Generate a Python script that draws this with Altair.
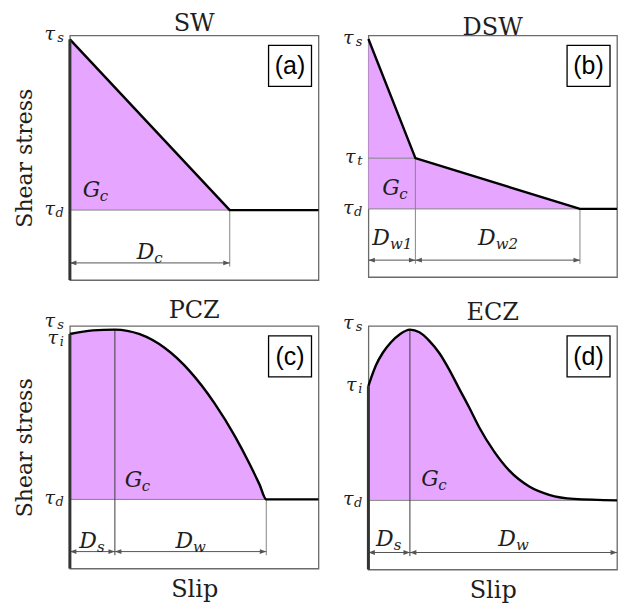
import altair as alt
import pandas as pd

SERIF = "DejaVu Serif"
SANS = "Liberation Sans"
FILL = "#E6A6FF"
INK = "#1e1e1e"
GUIDE = "#858585"
DARK_GUIDE = "#3c3c3c"
ARROW = "#555555"
PANEL_W = 249
ARROW_Y = 0.07
GUIDE_FLOOR = 0.055

# ---------- traction-slip laws (normalised slip, normalised stress) ----------
sw_slip = [0.0, 0.643, 1.0]
sw_stress = [0.984, 0.286, 0.286]

dsw_slip = [0.0, 0.189, 0.851, 1.0]
dsw_stress = [0.985, 0.492, 0.282, 0.282]

pcz_slip = [0.0, 0.092, 0.181, 0.281, 0.382, 0.482, 0.582, 0.663, 0.723, 0.763, 0.790, 1.0]
pcz_stress = [0.967, 0.982, 0.985, 0.966, 0.909, 0.814, 0.681, 0.547, 0.431, 0.346, 0.285, 0.285]

ecz_slip = [0.0, 0.012, 0.030, 0.058, 0.090, 0.128, 0.167, 0.205, 0.245, 0.285, 0.325, 0.365,
            0.406, 0.446, 0.506, 0.566, 0.647, 0.727, 0.827, 1.0]
ecz_stress = [0.753, 0.790, 0.838, 0.890, 0.932, 0.967, 0.985, 0.974, 0.939, 0.889, 0.821, 0.743,
              0.664, 0.583, 0.484, 0.407, 0.341, 0.307, 0.290, 0.284]

# stress levels marked on each law: (subscript, level, vertical nudge in px)
sw_taus = [("s", 0.984, -4), ("d", 0.286, 0)]
dsw_taus = [("s", 0.985, 0), ("t", 0.492, 0), ("d", 0.282, 0)]
pcz_taus = [("s", 0.985, -8), ("i", 0.967, 5), ("d", 0.285, 0)]
ecz_taus = [("s", 0.985, -6), ("i", 0.753, 0), ("d", 0.284, 0)]

# slip distances: (start, end, subscript)
sw_spans = [(0.0, 0.643, "c")]
dsw_spans = [(0.0, 0.189, "w1"), (0.189, 0.851, "w2")]
pcz_spans = [(0.0, 0.181, "s"), (0.181, 0.790, "w")]
ecz_spans = [(0.0, 0.167, "s"), (0.167, 1.0, "w")]

# fracture-energy label anchor (slip, stress) and height of the distance labels
gc_anchor = {"a": (0.052, 0.367), "b": (0.056, 0.368), "c": (0.221, 0.366), "d": (0.213, 0.370)}
span_label_y = {"a": 0.115, "b": 0.16, "c": 0.115, "d": 0.125}

SUB_W = {"c": 8, "s": 8, "w": 12, "w1": 21, "w2": 21, "t": 6, "d": 8, "i": 5}

XS = alt.Scale(domain=[0, 1], nice=False, zero=False)
YS = alt.Scale(domain=[0, 1], nice=False, zero=False)


def build_panel(key, title, slip, stress, taus, spans, end, tau_d, height, interp="linear",
                thick_top=None, hguides=(), vguides=(), y_title=False, x_title=False):
    ya = (alt.Axis(title="Shear stress", labels=False, ticks=False, domain=False, grid=False,
                   titleFont=SERIF, titleFontSize=22, titleFontWeight="normal",
                   titleColor=INK, titlePadding=33, minExtent=0, maxExtent=0)
          if y_title else None)
    xa = (alt.Axis(title="Slip", labels=False, ticks=False, domain=False, grid=False,
                   titleFont=SERIF, titleFontSize=24, titleFontWeight="normal",
                   titleColor=INK, titlePadding=9, minExtent=0, maxExtent=0)
          if x_title else None)

    def X(f):
        return alt.X(f"{f}:Q", scale=XS, axis=xa)

    def Y(f):
        return alt.Y(f"{f}:Q", scale=YS, axis=ya)

    curve = pd.DataFrame({"x": slip, "y": stress})
    filled = curve[curve["x"] <= end + 1e-9].assign(base=tau_d)

    layers = []
    layers.append(alt.Chart(filled).mark_area(color=FILL, opacity=1, interpolate=interp)
                  .encode(x=X("x"), y=Y("y"), y2="base:Q"))

    hg = pd.DataFrame(list(hguides), columns=["x0", "x1", "y"])
    layers.append(alt.Chart(hg).mark_rule(color=GUIDE, strokeWidth=1)
                  .encode(x=X("x0"), x2="x1:Q", y=Y("y")))

    vg = pd.DataFrame(list(vguides), columns=["x", "y0", "y1", "tone"])
    layers.append(alt.Chart(vg).mark_rule(strokeWidth=1)
                  .encode(x=X("x"), y=Y("y0"), y2="y1:Q",
                          color=alt.Color("tone:N", scale=None)))

    sp = pd.DataFrame(spans, columns=["x0", "x1", "sub"]).assign(y=ARROW_Y)
    layers.append(alt.Chart(sp).mark_rule(color=ARROW, strokeWidth=1)
                  .encode(x=X("x0"), x2="x1:Q", y=Y("y")))
    layers.append(alt.Chart(sp).mark_point(shape="M0,0L2,-0.75L2,0.75Z", filled=True, size=42,
                                           color=ARROW, opacity=1)
                  .encode(x=X("x0"), y=Y("y")))
    layers.append(alt.Chart(sp).mark_point(shape="M0,0L-2,-0.75L-2,0.75Z", filled=True, size=42,
                                           color=ARROW, opacity=1)
                  .encode(x=X("x1"), y=Y("y")))

    layers.append(alt.Chart(curve).mark_line(color="black", strokeWidth=2.4,
                                             interpolate=interp, strokeJoin="round")
                  .encode(x=X("x"), y=Y("y")))

    if thick_top is not None:
        tk = pd.DataFrame({"x": [0.0], "y0": [0.0], "y1": [thick_top]})
        layers.append(alt.Chart(tk).mark_rule(color="#333333", strokeWidth=3)
                      .encode(x=X("x"), y=Y("y0"), y2="y1:Q"))

    # stress-level labels on the left edge
    for sub, level, nudge in taus:
        row = pd.DataFrame({"x": [0.0], "y": [level]})
        sw = SUB_W[sub]
        layers.append(alt.Chart(row).mark_text(text="τ", font=SERIF, fontStyle="italic", fontSize=19,
                                               color=INK, align="right", baseline="middle",
                                               dx=-7 - sw, dy=nudge - 1)
                      .encode(x=X("x"), y=Y("y")))
        layers.append(alt.Chart(row).mark_text(text=sub, font=SERIF, fontStyle="italic", fontSize=13,
                                               color=INK, align="right", baseline="middle",
                                               dx=-6, dy=nudge + 3)
                      .encode(x=X("x"), y=Y("y")))

    # fracture energy label
    gx, gy = gc_anchor[key]
    grow = pd.DataFrame({"x": [gx], "y": [gy]})
    layers.append(alt.Chart(grow).mark_text(text="G", font=SERIF, fontStyle="italic", fontSize=22,
                                            color=INK, align="left", baseline="middle")
                  .encode(x=X("x"), y=Y("y")))
    layers.append(alt.Chart(grow).mark_text(text="c", font=SERIF, fontStyle="italic", fontSize=15,
                                            color=INK, align="left", baseline="middle", dx=17, dy=6)
                  .encode(x=X("x"), y=Y("y")))

    # slip-distance labels above the dimension arrows
    for x0, x1, sub in spans:
        row = pd.DataFrame({"x": [(x0 + x1) / 2], "y": [span_label_y[key]]})
        sw = SUB_W[sub]
        shift = (17 - sw) / 2
        layers.append(alt.Chart(row).mark_text(text="D", font=SERIF, fontStyle="italic", fontSize=22,
                                               color=INK, align="right", baseline="middle", dx=shift)
                      .encode(x=X("x"), y=Y("y")))
        layers.append(alt.Chart(row).mark_text(text=sub, font=SERIF, fontStyle="italic", fontSize=15,
                                               color=INK, align="left", baseline="middle",
                                               dx=shift, dy=6)
                      .encode(x=X("x"), y=Y("y")))

    # panel tag in a framed box at the top-right corner
    tag = pd.DataFrame({"t": [f"({key})"]})
    layers.append(alt.Chart(tag).mark_rect(fill="white", stroke="black", strokeWidth=1.3)
                  .encode(x=alt.value(PANEL_W - 50), x2=alt.value(PANEL_W - 7),
                          y=alt.value(10), y2=alt.value(51)))
    layers.append(alt.Chart(tag).mark_text(font=SANS, fontSize=25, color="black",
                                           align="center", baseline="middle")
                  .encode(text="t:N", x=alt.value(PANEL_W - 28.5), y=alt.value(31)))

    return alt.layer(*layers).properties(
        width=PANEL_W, height=height,
        title=alt.TitleParams(title, font=SERIF, fontSize=24, fontWeight="normal",
                              color=INK, offset=8, dy=19, anchor="middle", frame="group"))


panel_a = build_panel("a", "SW", sw_slip, sw_stress, sw_taus, sw_spans, 0.643, 0.286, 245,
                      thick_top=0.984,
                      hguides=[(0.0, 0.643, 0.286)],
                      vguides=[(0.643, GUIDE_FLOOR, 0.286, GUIDE)],
                      y_title=True)
panel_b = build_panel("b", "DSW", dsw_slip, dsw_stress, dsw_taus, dsw_spans, 0.851, 0.282, 242,
                      hguides=[(0.0, 0.851, 0.282), (0.0, 0.189, 0.492)],
                      vguides=[(0.189, GUIDE_FLOOR, 0.492, GUIDE), (0.851, GUIDE_FLOOR, 0.282, GUIDE)])
panel_c = build_panel("c", "PCZ", pcz_slip, pcz_stress, pcz_taus, pcz_spans, 0.790, 0.285, 243,
                      interp="monotone", thick_top=0.967,
                      hguides=[(0.0, 0.790, 0.285)],
                      vguides=[(0.181, GUIDE_FLOOR, 0.985, DARK_GUIDE), (0.790, GUIDE_FLOOR, 0.285, GUIDE)],
                      y_title=True, x_title=True)
panel_d = build_panel("d", "ECZ", ecz_slip, ecz_stress, ecz_taus, ecz_spans, 1.0, 0.284, 244,
                      interp="monotone", thick_top=0.753,
                      hguides=[(0.0, 1.0, 0.284)],
                      vguides=[(0.167, GUIDE_FLOOR, 0.985, DARK_GUIDE)],
                      x_title=True)

chart = alt.concat(
    panel_a, panel_b, panel_c, panel_d,
    columns=2, spacing={"row": 46, "column": 50}, bounds="flush",
).properties(
    padding={"left": 13, "top": 11, "right": 0, "bottom": 0},
).configure_view(stroke="#6b6b6b", strokeWidth=1.3)

chart.save("out.html", embed_options={"renderer": "svg", "actions": False})
